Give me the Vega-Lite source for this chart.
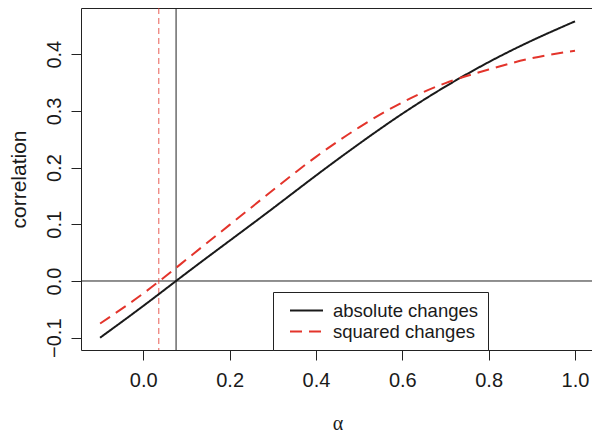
{
  "$schema": "https://vega.github.io/schema/vega-lite/v6.json",
  "autosize": {"type": "none"},
  "padding": {"left": 81, "top": 8, "right": 0, "bottom": 82},
  "width": 513,
  "height": 342,
  "background": "white",
  "config": {
    "view": {"stroke": "#222", "strokeWidth": 1},
    "font": "Liberation Sans",
    "axis": {
      "grid": false,
      "domain": false,
      "tickColor": "#222",
      "tickSize": 10,
      "tickWidth": 1,
      "labelFont": "Liberation Sans",
      "labelFontSize": 20,
      "labelColor": "#1a1a1a",
      "titleColor": "#1a1a1a",
      "titleFontWeight": "normal"
    },
    "legend": {
      "orient": "none",
      "legendX": 192,
      "legendY": 284,
      "strokeColor": "#222",
      "fillColor": "white",
      "padding": 9,
      "symbolType": "stroke",
      "symbolSize": 1089,
      "symbolStrokeWidth": 2,
      "symbolOffset": 7,
      "labelOffset": 9,
      "labelFont": "Liberation Sans",
      "labelFontSize": 18.5,
      "labelColor": "#1a1a1a",
      "clipHeight": 19,
      "rowPadding": 2,
      "title": null
    }
  },
  "datasets": {
    "curves": [
      {"alpha": -0.1, "corr": -0.100, "series": "absolute changes"},
      {"alpha": 0.0, "corr": -0.044, "series": "absolute changes"},
      {"alpha": 0.1, "corr": 0.014, "series": "absolute changes"},
      {"alpha": 0.2, "corr": 0.071, "series": "absolute changes"},
      {"alpha": 0.3, "corr": 0.128, "series": "absolute changes"},
      {"alpha": 0.4, "corr": 0.186, "series": "absolute changes"},
      {"alpha": 0.5, "corr": 0.242, "series": "absolute changes"},
      {"alpha": 0.6, "corr": 0.295, "series": "absolute changes"},
      {"alpha": 0.7, "corr": 0.343, "series": "absolute changes"},
      {"alpha": 0.8, "corr": 0.386, "series": "absolute changes"},
      {"alpha": 0.9, "corr": 0.424, "series": "absolute changes"},
      {"alpha": 1.0, "corr": 0.458, "series": "absolute changes"},
      {"alpha": -0.1, "corr": -0.075, "series": "squared changes"},
      {"alpha": 0.0, "corr": -0.022, "series": "squared changes"},
      {"alpha": 0.1, "corr": 0.038, "series": "squared changes"},
      {"alpha": 0.2, "corr": 0.099, "series": "squared changes"},
      {"alpha": 0.3, "corr": 0.160, "series": "squared changes"},
      {"alpha": 0.4, "corr": 0.219, "series": "squared changes"},
      {"alpha": 0.5, "corr": 0.271, "series": "squared changes"},
      {"alpha": 0.6, "corr": 0.315, "series": "squared changes"},
      {"alpha": 0.7, "corr": 0.349, "series": "squared changes"},
      {"alpha": 0.8, "corr": 0.373, "series": "squared changes"},
      {"alpha": 0.9, "corr": 0.393, "series": "squared changes"},
      {"alpha": 1.0, "corr": 0.406, "series": "squared changes"}
    ],
    "vlines": [
      {"alpha": 0.076, "series": "absolute changes"},
      {"alpha": 0.036, "series": "squared changes"}
    ],
    "hline": [
      {"corr": 0}
    ]
  },
  "layer": [
    {
      "data": {"name": "hline"},
      "mark": {"type": "rule", "color": "#222", "strokeWidth": 1},
      "encoding": {
        "y": {"field": "corr", "type": "quantitative", "scale": {"domain": [-0.1217, 0.4815], "nice": false, "zero": false}}
      }
    },
    {
      "data": {"name": "vlines"},
      "transform": [{"filter": "datum.series == 'absolute changes'"}],
      "mark": {"type": "rule", "color": "#222", "strokeWidth": 1},
      "encoding": {
        "x": {"field": "alpha", "type": "quantitative", "scale": {"domain": [-0.1442, 1.044], "nice": false, "zero": false}}
      }
    },
    {
      "data": {"name": "vlines"},
      "transform": [{"filter": "datum.series == 'squared changes'"}],
      "mark": {"type": "rule", "color": "#e3342b", "opacity": 0.8, "strokeWidth": 1, "strokeDash": [6, 4]},
      "encoding": {
        "x": {"field": "alpha", "type": "quantitative", "scale": {"domain": [-0.1442, 1.044], "nice": false, "zero": false}}
      }
    },
    {
      "data": {"name": "curves"},
      "mark": {"type": "line", "strokeWidth": 2, "interpolate": "natural"},
      "encoding": {
        "x": {
          "field": "alpha", "type": "quantitative",
          "scale": {"domain": [-0.1442, 1.044], "nice": false, "zero": false},
          "axis": {
            "values": [0, 0.2, 0.4, 0.6, 0.8, 1.0],
            "format": ".1f",
            "labelPadding": 10,
            "title": "α",
            "titleFont": "Liberation Serif",
            "titleFontSize": 20,
            "titleY": 79.5,
            "titleBaseline": "alphabetic"
          }
        },
        "y": {
          "field": "corr", "type": "quantitative",
          "scale": {"domain": [-0.1217, 0.4815], "nice": false, "zero": false},
          "axis": {
            "values": [-0.1, 0, 0.1, 0.2, 0.3, 0.4],
            "format": ".1f",
            "labelAngle": -90,
            "labelAlign": "center",
            "labelBaseline": "alphabetic",
            "labelPadding": 11,
            "title": "correlation",
            "titleFont": "Liberation Sans",
            "titleFontSize": 21,
            "titleAngle": -90,
            "titleAlign": "center",
            "titleBaseline": "alphabetic",
            "titleX": -56,
            "titleY": 171
          }
        },
        "color": {
          "field": "series", "type": "nominal",
          "scale": {"domain": ["absolute changes", "squared changes"], "range": ["#1a1a1a", "#e3342b"]}
        },
        "strokeDash": {
          "field": "series", "type": "nominal",
          "scale": {"domain": ["absolute changes", "squared changes"], "range": [[1, 0], [12, 7]]}
        }
      }
    }
  ]
}
